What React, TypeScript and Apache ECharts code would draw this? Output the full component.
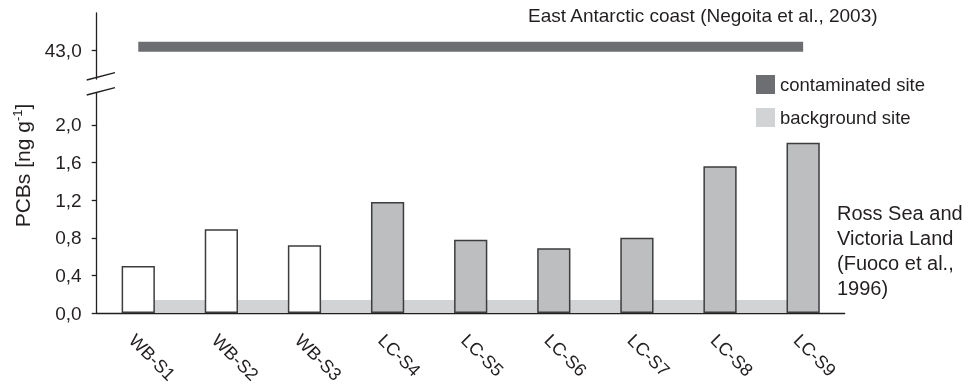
import React, { useEffect, useRef } from "react";
import * as echarts from "echarts";

const categories = ["WB-S1", "WB-S2", "WB-S3", "LC-S4", "LC-S5", "LC-S6", "LC-S7", "LC-S8", "LC-S9"];
const pcbValues = [0.5, 0.89, 0.72, 1.18, 0.78, 0.69, 0.8, 1.56, 1.81];
const siteGroups = ["WB", "WB", "WB", "LC", "LC", "LC", "LC", "LC", "LC"];
const lowerTicks = [0, 0.4, 0.8, 1.2, 1.6, 2.0];
const upperTicks = [43];
const backgroundBand = [0, 0.138];
const contaminatedBand = [42.95, 43.3];
const titleText = "East Antarctic coast (Negoita et al., 2003)";
const rossText = ["Ross Sea and", "Victoria Land", "(Fuoco et al.,", "1996)"];
const legendNames = ["contaminated site", "background site"];

const FONT = "'Liberation Sans', Arial, Helvetica, sans-serif";
const INK = "#231f20";
const DARK = "#6d6e71";
const LIGHT = "#d1d3d4";
const BAR_GRAY = "#bcbec0";
const fmt = (v: number) => v.toFixed(1).replace(".", ",");

export default function App() {
  const ref = useRef<HTMLDivElement>(null);
  useEffect(() => {
    if (!ref.current) return;
    const chart = echarts.init(ref.current, null, { renderer: "svg" });
    const gridLeft = 96.7;
    const gridWidth = 748;
    chart.setOption({
      animation: false,
      textStyle: { fontFamily: FONT, color: INK },
      grid: [
        { left: gridLeft, top: 93, width: gridWidth, height: 220 },
        { left: gridLeft, top: 13, width: gridWidth, height: 66 },
      ],
      legend: {
        data: legendNames.map((n) => ({ name: n, icon: "rect" })),
        orient: "vertical",
        left: 751,
        top: 70,
        itemWidth: 19,
        itemHeight: 19,
        itemGap: 14,
        selectedMode: false,
        textStyle: { fontSize: 18.5, color: INK, fontFamily: FONT },
      },
      xAxis: [
        {
          type: "category",
          gridIndex: 0,
          data: categories,
          axisLine: { lineStyle: { color: INK, width: 1.3 } },
          axisTick: { length: 5, lineStyle: { color: INK, width: 1.3 } },
          axisLabel: {
            rotate: -45,
            interval: 0,
            margin: 18,
            align: "left",
            verticalAlign: "top",
            fontSize: 18,
            color: INK,
            fontFamily: FONT,
          },
        },
        { type: "category", gridIndex: 1, data: categories, show: false },
      ],
      yAxis: [
        {
          type: "value",
          gridIndex: 0,
          min: 0,
          max: 2.34,
          splitLine: { show: false },
          axisLine: { show: true, lineStyle: { color: INK, width: 1.3 } },
          axisTick: { show: true, length: 5, customValues: lowerTicks, lineStyle: { color: INK, width: 1.3 } },
          axisLabel: { customValues: lowerTicks, formatter: fmt, fontSize: 19, color: INK, margin: 15, fontFamily: FONT },
        },
        {
          type: "value",
          gridIndex: 1,
          min: 42,
          max: 44.3,
          splitLine: { show: false },
          axisLine: { show: true, lineStyle: { color: INK, width: 1.3 } },
          axisTick: { show: true, length: 5, customValues: upperTicks, lineStyle: { color: INK, width: 1.3 } },
          axisLabel: { customValues: upperTicks, formatter: fmt, fontSize: 19, color: INK, margin: 15, fontFamily: FONT },
        },
      ],
      series: [
        {
          type: "bar",
          name: "PCBs",
          xAxisIndex: 0,
          yAxisIndex: 0,
          z: 3,
          barWidth: "40%",
          data: pcbValues.map((v, i) => ({
            value: v,
            itemStyle: {
              color: siteGroups[i] === "WB" ? "#ffffff" : BAR_GRAY,
              borderColor: "#3d3d3f",
              borderWidth: 1.5,
            },
          })),
        },
        {
          type: "line",
          name: legendNames[1],
          xAxisIndex: 0,
          yAxisIndex: 0,
          z: 1,
          color: LIGHT,
          itemStyle: { color: LIGHT },
          lineStyle: { color: LIGHT },
          data: [],
          markArea: {
            silent: true,
            label: { show: false },
            itemStyle: { color: LIGHT, opacity: 1 },
            data: [[
              { xAxis: categories[0], yAxis: backgroundBand[0] },
              { xAxis: categories[categories.length - 1], yAxis: backgroundBand[1] },
            ]],
          },
        },
        {
          type: "line",
          name: legendNames[0],
          xAxisIndex: 1,
          yAxisIndex: 1,
          z: 1,
          color: DARK,
          itemStyle: { color: DARK },
          lineStyle: { color: DARK },
          data: [],
          markArea: {
            silent: true,
            label: { show: false },
            itemStyle: { color: DARK, opacity: 1 },
            data: [[
              { xAxis: categories[0], yAxis: contaminatedBand[0] },
              { xAxis: categories[categories.length - 1], yAxis: contaminatedBand[1] },
            ]],
          },
        },
      ],
      graphic: [
        { type: "line", shape: { x1: 86.7, y1: 80, x2: 115, y2: 72.7 }, style: { stroke: INK, lineWidth: 1.3 } },
        { type: "line", shape: { x1: 86.7, y1: 95, x2: 115, y2: 87.7 }, style: { stroke: INK, lineWidth: 1.3 } },
        {
          type: "text",
          x: 22.5,
          y: 165.5,
          rotation: Math.PI / 2,
          style: {
            text: "{a|PCBs [ng g}{s|-1}{a|]}",
            align: "center",
            verticalAlign: "middle",
            fill: INK,
            rich: {
              a: { fontSize: 21, fontFamily: FONT, lineHeight: 24, fill: INK, color: INK },
              s: { fontSize: 13, fontFamily: FONT, lineHeight: 24, verticalAlign: "top", fill: INK, color: INK },
            },
          },
        },
        {
          type: "text",
          x: 528,
          y: 15,
          style: { text: titleText, fontSize: 19, fontFamily: FONT, fill: INK, align: "left", verticalAlign: "middle" },
        },
        {
          type: "text",
          x: 837,
          y: 200.5,
          style: {
            text: rossText.join("\n"),
            fontSize: 20,
            lineHeight: 25,
            fontFamily: FONT,
            fill: INK,
            align: "left",
            verticalAlign: "top",
          },
        },
      ],
    });
    return () => chart.dispose();
  }, []);
  return <div ref={ref} style={{ position: "fixed", left: 0, top: 0, width: 971, height: 387 }} />;
}
